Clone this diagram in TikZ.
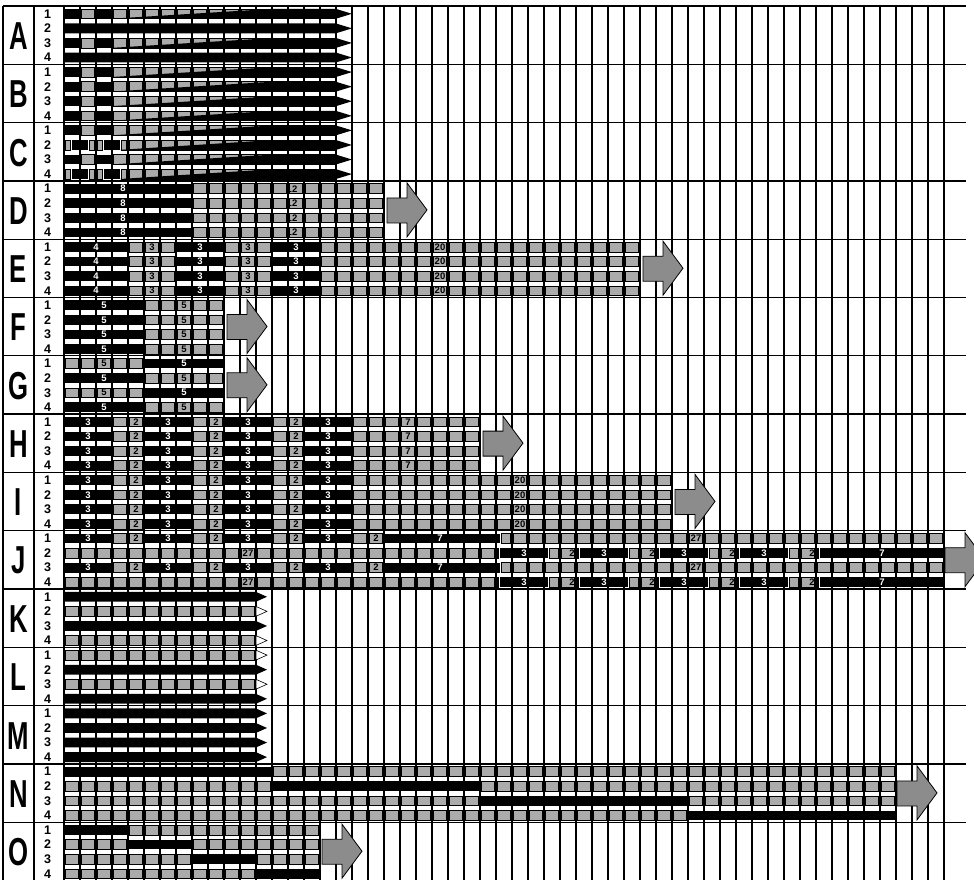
\documentclass[tikz,border=0pt]{standalone}
\usepackage{fontspec}
\setmainfont{Liberation Sans}
\tikzset{
  gline/.style={line width=1.2pt, black},
  hline/.style={line width=1.3pt, black},
  gcell/.style={fill=black!33, draw=black, line width=0.6pt},
  gtip/.style={fill=white, draw=black, line width=0.6pt},
  wlab/.style={text=white, font=\fontsize{9.5}{9.5}\selectfont\bfseries, inner sep=0pt},
  blab/.style={text=black, font=\fontsize{9.5}{9.5}\selectfont\bfseries, inner sep=0pt},
  biglet/.style={font=\fontsize{39}{39}\selectfont\bfseries, inner sep=0pt},
  numlab/.style={font=\fontsize{12.5}{12.5}\selectfont\bfseries, inner sep=0pt},
  bigarrow/.style={fill=black!45, draw=black, line width=0.8pt, line join=miter}
}
% y centre of subrow
\newcommand\rowy[2]{\pgfmathsetmacro\yy{6.5+58.3*#1+14.575*(#2-0.5)}}
% black bar from col to col
\newcommand\BK[2]{\fill[black] ({64+16*(#1)},{\yy-4.9}) rectangle ({64+16*(#2)},{\yy+4.9});}
% black bar with pointed tip
\newcommand\BKP[3]{\fill[black] ({64+16*(#1)},{\yy-4.9}) -- ({64+16*(#2)},{\yy-4.9}) -- ({64+16*(#2)+#3},{\yy}) -- ({64+16*(#2)},{\yy+4.9}) -- ({64+16*(#1)},{\yy+4.9}) -- cycle;}
% gray cells from col to col
\newcommand\GR[2]{%
  \pgfmathtruncatemacro\gA{floor(#1)}%
  \pgfmathtruncatemacro\gB{ceil(#2)-1}%
  \foreach \k in {\gA,...,\gB}{%
    \pgfmathsetmacro\xa{max(#1,\k)}%
    \pgfmathsetmacro\xb{min(#2,\k+1)}%
    \path[gcell] ({64+16*\xa+1.5},{\yy-4.9}) rectangle ({64+16*\xb-1.5},{\yy+4.9});
  }}
% black wedge over gray, ending in tip at col 17/18
\newcommand\WD[2]{\fill[black] ({64+16*(#1)},{\yy+4.9}) -- ({64+16*(#2)},{\yy-4.9}) -- (336,{\yy-4.9}) -- (352,{\yy}) -- (336,{\yy+4.9}) -- cycle;}
\newcommand\WL[2]{\node[wlab] at ({#1},{\yy}) {#2};}
\newcommand\BL[2]{\node[blab] at ({#1},{\yy}) {#2};}
% A-type gray row
\newcommand\APAT{\BK{0}{1}\GR{1}{2}\BK{2}{3}\GR{3}{17}\WD{3}{13}}
\newcommand\CPAT{\GR{0}{0.5}\BK{0.5}{1.5}\GR{1.5}{2.5}\BK{2.5}{3.5}\GR{3.5}{17}\WD{3.5}{13}}
% 3-2 pattern
\newcommand\HP[1]{%
  \BK{#1}{#1+3}\WL{64+16*(#1+1.5)}{3}%
  \GR{#1+3}{#1+5}\BL{64+16*(#1+4.5)}{2}%
  \BK{#1+5}{#1+8}\WL{64+16*(#1+6.5)}{3}%
  \GR{#1+8}{#1+10}\BL{64+16*(#1+9.5)}{2}%
  \BK{#1+10}{#1+13}\WL{64+16*(#1+11.5)}{3}%
  \GR{#1+13}{#1+15}\BL{64+16*(#1+14.5)}{2}%
  \BK{#1+15}{#1+18}\WL{64+16*(#1+16.5)}{3}}
% big gray arrow for group g at x
\newcommand\ARR[2]{\pgfmathsetmacro\arrT{6+58.3*#1}%
  \draw[bigarrow] (#2,{\arrT+17}) -- ({#2+20},{\arrT+17}) -- ({#2+20},{\arrT+2}) -- ({#2+40},{\arrT+29}) -- ({#2+20},{\arrT+56}) -- ({#2+20},{\arrT+42}) -- (#2,{\arrT+42}) -- cycle;}
\newcommand\GTIP{\GR{0}{12}\draw[gtip] (256,{\yy-4.9}) -- (267,{\yy}) -- (256,{\yy+4.9}) -- cycle;}
\newcommand\BTIP{\BKP{0}{12}{11}}

\begin{document}
\begin{tikzpicture}[x=1pt,y=-1pt]
\useasboundingbox (0,0) rectangle (974,880);
\clip (0,0) rectangle (974,880);
\fill[white] (0,0) rectangle (974,880);
% grid
\foreach \k in {0,...,55} \draw[gline] ({64+16*\k},6) -- ({64+16*\k},880);
\draw[gline] (3,6) -- (3,880);
\draw[gline] (34,6) -- (34,880);
\foreach \g in {0,...,15} \draw[hline] (3,{6+58.3*\g}) -- (966,{6+58.3*\g});
% letters and numbers
\foreach \L [count=\g from 0] in {A,B,C,D,E,F,G,H,I,J,K,L,M,N,O}{
  \node[biglet] (let\L) at (18.5,{6+58.3*\g+30}) {\scalebox{0.66}[1]{\L}};
  \foreach \s in {1,...,4}
    \node[numlab] (num\L\s) at (47.5,{6.5+58.3*\g+14.575*(\s-0.5)}) {\s};
}
% Row A
\rowy{0}{1}\APAT
\rowy{0}{2}\BKP{0}{17}{16}
\rowy{0}{3}\APAT
\rowy{0}{4}\BKP{0}{17}{16}
% Row B
\foreach \s in {1,...,4}{\rowy{1}{\s}\APAT}
% Row C
\rowy{2}{1}\APAT
\rowy{2}{2}\CPAT
\rowy{2}{3}\APAT
\rowy{2}{4}\CPAT
% Row D
\foreach \s in {1,...,4}{\rowy{3}{\s}\BK{0}{8}\WL{123}{8}\GR{8}{20}\BL{292}{12}}
\ARR{3}{387}
% Row E
\foreach \s in {1,...,4}{\rowy{4}{\s}
  \BK{0}{4}\WL{96}{4}\GR{4}{7}\BL{152}{3}\BK{7}{10}\WL{200}{3}
  \GR{10}{13}\BL{248}{3}\BK{13}{16}\WL{296}{3}\GR{16}{36}\BL{440}{20}}
\ARR{4}{643}
% Row F
\foreach \s in {1,...,4}{\rowy{5}{\s}\BK{0}{5}\WL{104}{5}\GR{5}{10}\BL{184}{5}}
\ARR{5}{227}
% Row G
\foreach \s in {1,3}{\rowy{6}{\s}\GR{0}{5}\BL{104}{5}\BK{5}{10}\WL{184}{5}}
\foreach \s in {2,4}{\rowy{6}{\s}\BK{0}{5}\WL{104}{5}\GR{5}{10}\BL{184}{5}}
\ARR{6}{227}
% Row H
\foreach \s in {1,...,4}{\rowy{7}{\s}\HP{0}\GR{18}{26}\BL{408}{7}}
\ARR{7}{483}
% Row I
\foreach \s in {1,...,4}{\rowy{8}{\s}\HP{0}\GR{18}{38}\BL{520}{20}}
\ARR{8}{675}
% Row J
\foreach \s in {1,3}{\rowy{9}{\s}\HP{0}\GR{18}{20}\BL{376}{2}\BK{20}{27.25}\WL{440}{7}\GR{27.25}{55}\BL{696}{27}}
\foreach \s in {2,4}{\rowy{9}{\s}\GR{0}{27.25}\BL{248}{27}\HP{27.25}\GR{45.25}{47.25}\BL{812}{2}\BK{47.25}{55}\WL{882}{7}}
\ARR{9}{945}
% Row K
\rowy{10}{1}\BTIP
\rowy{10}{2}\GTIP
\rowy{10}{3}\BTIP
\rowy{10}{4}\GTIP
% Row L
\rowy{11}{1}\GTIP
\rowy{11}{2}\BTIP
\rowy{11}{3}\GTIP
\rowy{11}{4}\BTIP
% Row M
\foreach \s in {1,...,4}{\rowy{12}{\s}\BTIP}
% Row N
\rowy{13}{1}\BK{0}{13}\GR{13}{52}
\rowy{13}{2}\GR{0}{13}\BK{13}{26}\GR{26}{52}
\rowy{13}{3}\GR{0}{26}\BK{26}{39}\GR{39}{52}
\rowy{13}{4}\GR{0}{39}\BK{39}{52}
\ARR{13}{897}
% Row O
\rowy{14}{1}\BK{0}{4}\GR{4}{16}
\rowy{14}{2}\GR{0}{4}\BK{4}{8}\GR{8}{16}
\rowy{14}{3}\GR{0}{8}\BK{8}{12}\GR{12}{16}
\rowy{14}{4}\GR{0}{12}\BK{12}{16}
\ARR{14}{322}
\end{tikzpicture}
\end{document}
